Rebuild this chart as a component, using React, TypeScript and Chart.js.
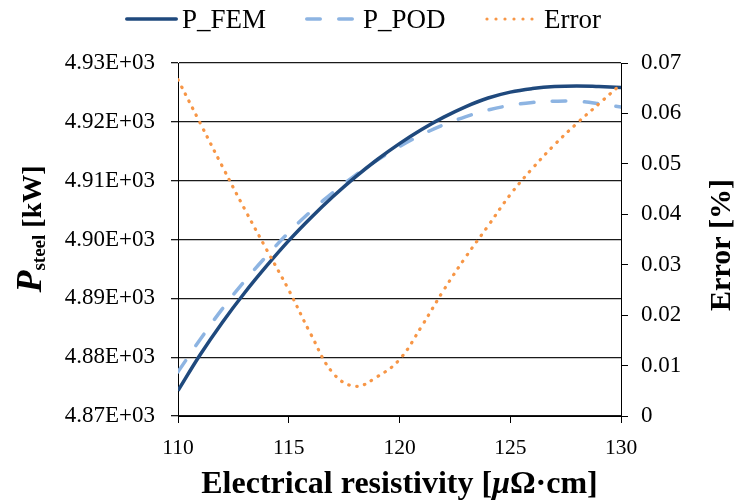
import React, { useEffect, useRef } from 'react';
import { Chart, registerables } from 'chart.js';

Chart.register(...registerables);

// ---- data ----
const resistivity = [110, 111, 112, 113, 114, 115, 116, 117, 118, 119, 120, 121, 122, 123, 124, 125, 126, 127, 128, 129, 130];
const pFem = [4874.3, 4880.4, 4885.9, 4890.9, 4895.5, 4899.8, 4903.7, 4907.3, 4910.6, 4913.6, 4916.3, 4918.7, 4920.8, 4922.6, 4924.05, 4925.05, 4925.65, 4926.0, 4926.1, 4926.0, 4925.85];
const pPod = [4877.5, 4883.0, 4888.2, 4892.9, 4897.2, 4901.2, 4904.8, 4908.0, 4910.9, 4913.5, 4915.8, 4917.8, 4919.5, 4920.9, 4922.0, 4922.8, 4923.3, 4923.5, 4923.5, 4923.1, 4922.5];
const errorPct = [0.0667, 0.0581, 0.0495, 0.0411, 0.0330, 0.0250, 0.0162, 0.0085, 0.0059, 0.0078, 0.0112, 0.0178, 0.0250, 0.0316, 0.0377, 0.0439, 0.0491, 0.0538, 0.0580, 0.0619, 0.0658];

const seriesNames = ['P_FEM', 'P_POD', 'Error'];
const xTitleParts = ['Electrical resistivity [', 'μ', 'Ω·cm]'];
const yLeftTitleParts = ['P', 'steel', ' [kW]'];
const yRightTitle = 'Error [%]';

const FONT = '"Liberation Serif", "Times New Roman", serif';
const C_FEM = '#1F497D';
const C_POD = '#8DB4E2';
const C_ERR = '#F79646';

const decorPlugin = {
  id: 'decor',
  afterDraw(chart: any) {
    const ctx: CanvasRenderingContext2D = chart.ctx;
    const area = chart.chartArea;
    ctx.save();
    // ---- legend ----
    const ly = 19;
    ctx.fillStyle = '#000';
    ctx.textBaseline = 'alphabetic';
    ctx.textAlign = 'left';
    ctx.font = `27px ${FONT}`;
    // FEM
    ctx.strokeStyle = C_FEM;
    ctx.lineWidth = 3.5;
    ctx.lineCap = 'round';
    ctx.setLineDash([]);
    ctx.beginPath();
    ctx.moveTo(126.75, ly);
    ctx.lineTo(176.25, ly);
    ctx.stroke();
    ctx.fillText(seriesNames[0], 182, 28);
    // POD
    ctx.strokeStyle = C_POD;
    ctx.setLineDash([13.5, 18.5]);
    ctx.beginPath();
    ctx.moveTo(306.75, ly);
    ctx.lineTo(354, ly);
    ctx.stroke();
    ctx.setLineDash([]);
    ctx.fillText(seriesNames[1], 363, 28);
    // Error
    ctx.fillStyle = C_ERR;
    for (let i = 0; i < 6; i++) {
      ctx.beginPath();
      ctx.arc(487 + 9 * i, ly, 1.6, 0, Math.PI * 2);
      ctx.fill();
    }
    ctx.fillStyle = '#000';
    ctx.fillText(seriesNames[2], 544, 28);

    // ---- x title ----
    const xf = [`bold 32px ${FONT}`, `italic bold 32px ${FONT}`, `bold 32px ${FONT}`];
    let tot = 0;
    const ws: number[] = [];
    xTitleParts.forEach((t, i) => { ctx.font = xf[i]; const w = ctx.measureText(t).width; ws.push(w); tot += w; });
    let xx = (area.left + area.right) / 2 - tot / 2;
    xTitleParts.forEach((t, i) => { ctx.font = xf[i]; ctx.fillText(t, xx, 493); xx += ws[i]; });

    // ---- left y title ----
    ctx.save();
    ctx.translate(41, 229);
    ctx.rotate(-Math.PI / 2);
    const lf = [`italic bold 36px ${FONT}`, `bold 19px ${FONT}`, `bold 28px ${FONT}`];
    const lo = [0, 4, 0];
    tot = 0;
    const lw: number[] = [];
    yLeftTitleParts.forEach((t, i) => { ctx.font = lf[i]; const w = ctx.measureText(t).width; lw.push(w); tot += w; });
    let px = -tot / 2;
    yLeftTitleParts.forEach((t, i) => { ctx.font = lf[i]; ctx.fillText(t, px, lo[i]); px += lw[i]; });
    ctx.restore();

    // ---- right y title ----
    ctx.save();
    ctx.translate(730, 245);
    ctx.rotate(-Math.PI / 2);
    ctx.font = `bold 30px ${FONT}`;
    ctx.textAlign = 'center';
    ctx.fillText(yRightTitle, 0, 0);
    ctx.restore();

    ctx.restore();
  },
};

export default function App() {
  const ref = useRef<HTMLCanvasElement | null>(null);
  useEffect(() => {
    document.body.style.margin = '0';
    const canvas = ref.current;
    if (!canvas) return;
    const mk = (arr: number[]) => resistivity.map((x, i) => ({ x, y: arr[i] }));
    const chart = new Chart(canvas, {
      type: 'line',
      data: {
        datasets: [
          {
            label: seriesNames[0], data: mk(pFem), yAxisID: 'y', borderColor: C_FEM, borderWidth: 3.5,
            pointRadius: 0, tension: 0.4, order: 1, fill: false,
          },
          {
            label: seriesNames[1], data: mk(pPod), yAxisID: 'y', borderColor: C_POD, borderWidth: 3.5,
            borderDash: [13.5, 18.5], borderCapStyle: 'round', pointRadius: 0, tension: 0.4, order: 2, fill: false,
          },
          {
            label: seriesNames[2], data: mk(errorPct), yAxisID: 'y1', borderColor: C_ERR, borderWidth: 3.2,
            borderDash: [0.5, 7.5], borderCapStyle: 'round', pointRadius: 0, tension: 0.4, order: 0, fill: false,
          },
        ],
      } as any,
      options: {
        responsive: false,
        devicePixelRatio: 1,
        animation: false,
        layout: { padding: { top: 63, left: 0, right: 0, bottom: 0 } },
        plugins: { legend: { display: false }, tooltip: { enabled: false } },
        scales: {
          x: {
            type: 'linear', min: 110, max: 130,
            afterFit: (s: any) => { s.height = 88; },
            ticks: { stepSize: 5, font: { family: FONT, size: 21.5 }, color: '#000', padding: 12, maxRotation: 0 },
            grid: { drawOnChartArea: false, drawTicks: true, tickLength: 7, color: '#000', lineWidth: 1 },
            border: { display: true, color: '#000', width: 1 },
          },
          y: {
            position: 'left', min: 4870, max: 4930,
            afterFit: (s: any) => { s.width = 178; },
            ticks: {
              stepSize: 10, font: { family: FONT, size: 23 }, color: '#000', padding: 16,
              callback: (v: any) => (Number(v) / 1000).toFixed(2) + 'E+03',
            },
            grid: { color: '#1a1a1a', lineWidth: 1.3, tickLength: 7 },
            border: { display: true, color: '#000', width: 1 },
          },
          y1: {
            position: 'right', min: 0, max: 0.07,
            afterFit: (s: any) => { s.width = 116; },
            ticks: {
              stepSize: 0.01, font: { family: FONT, size: 23 }, color: '#000', padding: 13,
              callback: (v: any) => (Math.abs(Number(v)) < 1e-9 ? '0' : Number(v).toFixed(2)),
            },
            grid: { drawOnChartArea: false, drawTicks: true, tickLength: 7, color: '#000', lineWidth: 1 },
            border: { display: true, color: '#000', width: 1 },
          },
        },
      } as any,
      plugins: [decorPlugin],
    });
    return () => chart.destroy();
  }, []);
  return (
    <div style={{ width: 737, height: 504, background: '#fff' }}>
      <canvas ref={ref} width={737} height={504} style={{ display: 'block' }} />
    </div>
  );
}
